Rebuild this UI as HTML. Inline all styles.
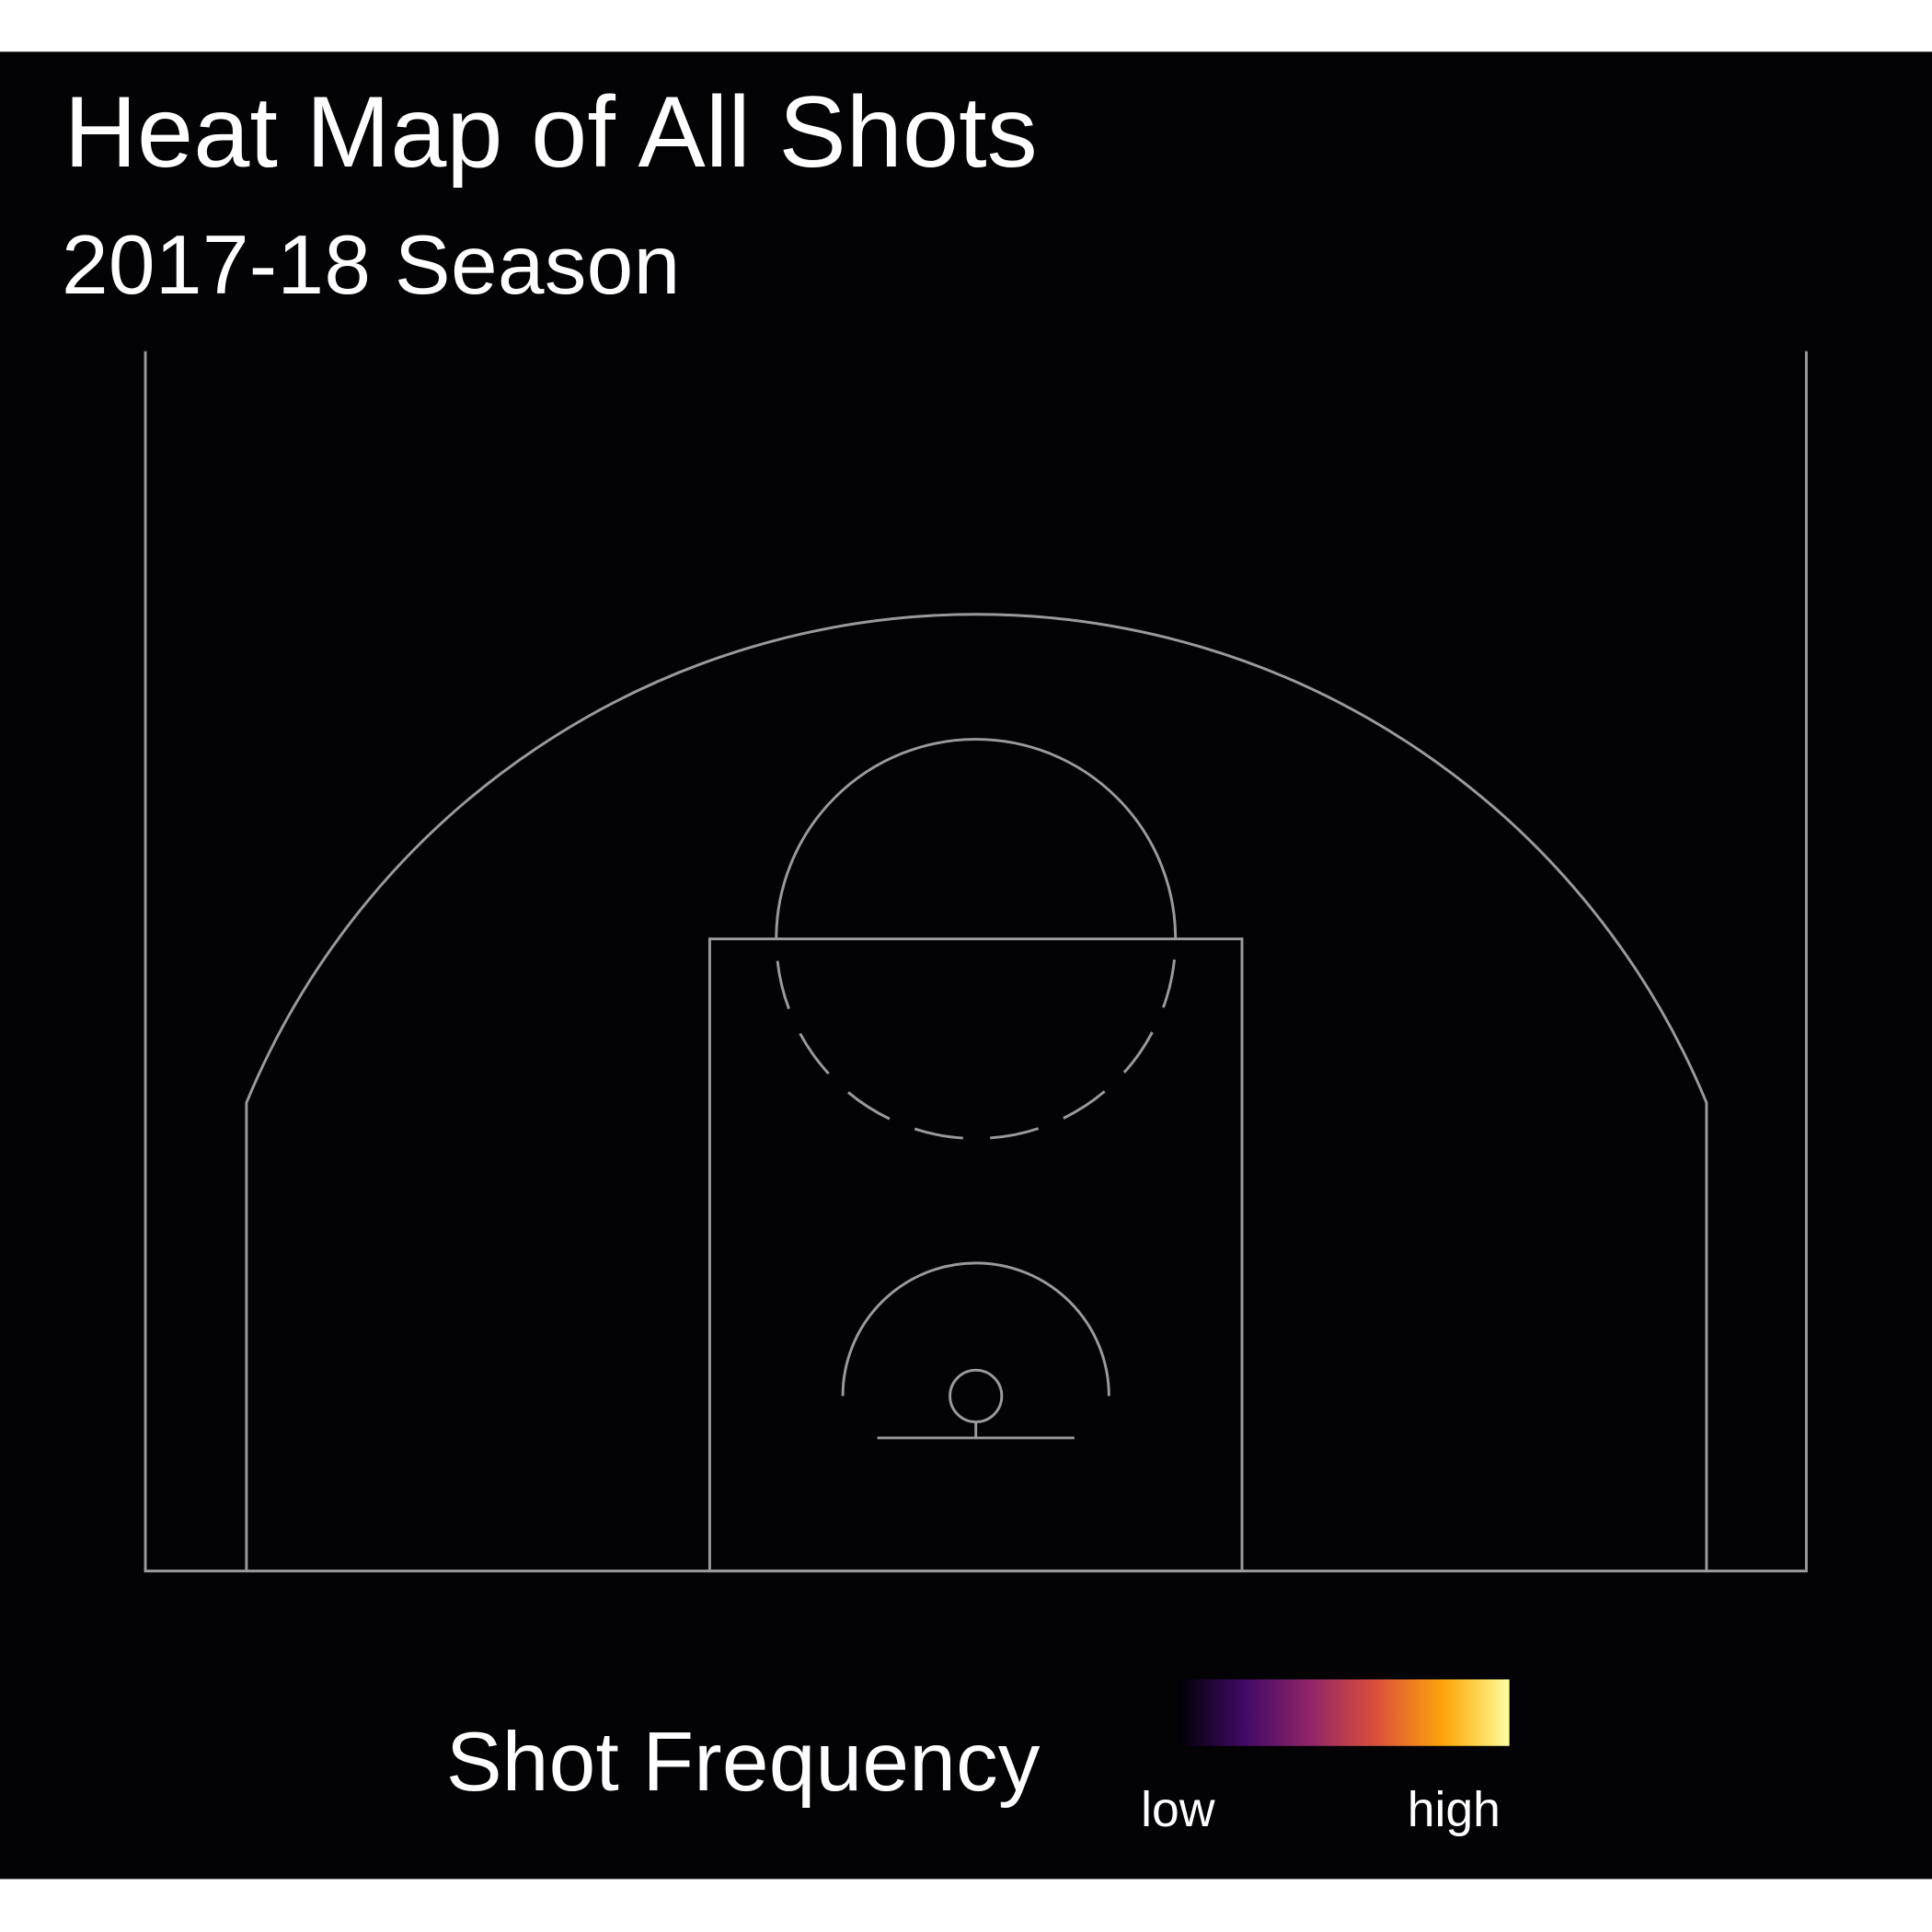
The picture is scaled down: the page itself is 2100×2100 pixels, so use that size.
<!DOCTYPE html>
<html><head><meta charset="utf-8"><style>
html,body{margin:0;padding:0;background:#fff;}
svg{display:block;}
text{font-family:"Liberation Sans",sans-serif;fill:#fff;}
</style></head><body>
<svg width="2100" height="2100" viewBox="0 0 1568 1568">
<defs>
<linearGradient id="inferno" x1="0" x2="1" y1="0" y2="0"></linearGradient>
</defs>
<rect x="0" y="0" width="1568" height="1568" fill="#fff"/>
<rect x="0" y="42" width="1568" height="1483" fill="#030306"/>
<text x="52" y="135" font-size="82" textLength="790">Heat Map of All Shots</text>
<text x="50" y="238" font-size="68" textLength="502">2017-18 Season</text>
<g fill="none" stroke="#9a9a9a" stroke-width="2.2">
<path d="M118 285 V1275 H1466 V285"/>
<path d="M200 1275 V895 A641 641 0 0 1 1385 895 V1275"/>
<rect x="576" y="762" width="432" height="513"/>
<path d="M630 762 A162 162 0 0 1 954 762"/>
<path d="M630 762 A162 162 0 0 0 954 762" stroke-dasharray="40 22" stroke-dashoffset="-18"/>
<path d="M684 1133 A108 108 0 0 1 900 1133"/>
<circle cx="792" cy="1133" r="21"/>
<path d="M792 1154 V1167"/>
<path d="M712 1167 H872"/>
</g>
<text x="362" y="1453" font-size="68" textLength="482">Shot Frequency</text>
<rect x="957" y="1363" width="268" height="54" fill="url(#inferno)"/>
<text x="956" y="1482" font-size="40" text-anchor="middle">low</text>
<text x="1180" y="1482" font-size="40" text-anchor="middle">high</text>
</svg>
<script>
const stopOffsets = [0, 0.2, 0.4, 0.6, 0.8, 0.9, 1];
const stopColors = ["#000004", "#420a68", "#932667", "#dd513a", "#fca50a", "#fcd24a", "#fcffa4"];
const g = document.getElementById('inferno');
stopOffsets.forEach((o, i) => {
  const s = document.createElementNS('http://www.w3.org/2000/svg', 'stop');
  s.setAttribute('offset', o);
  s.setAttribute('stop-color', stopColors[i]);
  
  
  g.appendChild(s);
});
</script>
</body></html>
